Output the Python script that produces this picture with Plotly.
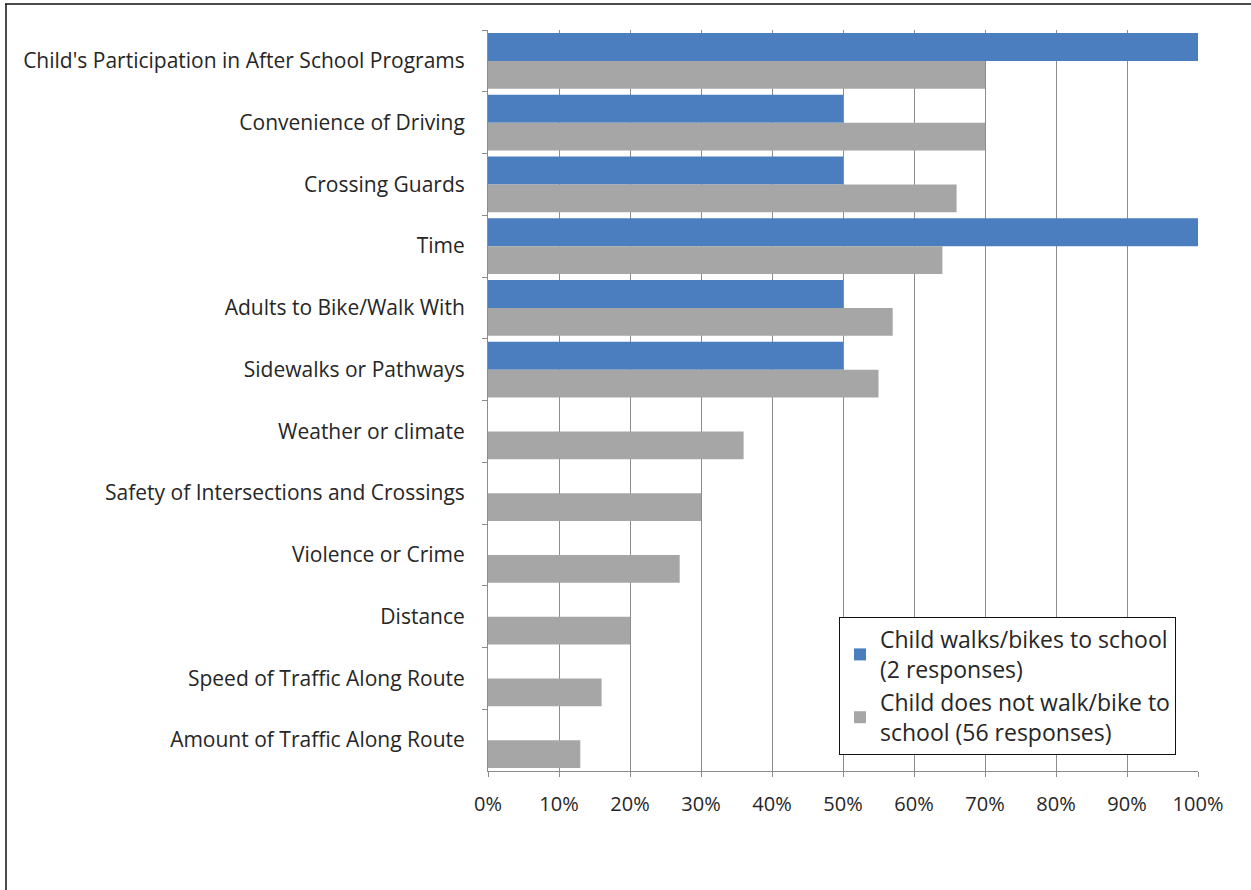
import plotly.graph_objects as go

categories = [
    "Child's Participation in After School Programs",
    "Convenience of Driving",
    "Crossing Guards",
    "Time",
    "Adults to Bike/Walk With",
    "Sidewalks or Pathways",
    "Weather or climate",
    "Safety of Intersections and Crossings",
    "Violence or Crime",
    "Distance",
    "Speed of Traffic Along Route",
    "Amount of Traffic Along Route",
]
walks_bikes = [1.00, 0.50, 0.50, 1.00, 0.50, 0.50, 0, 0, 0, 0, 0, 0]
does_not = [0.70, 0.70, 0.66, 0.64, 0.57, 0.55, 0.36, 0.30, 0.27, 0.20, 0.16, 0.13]
x_ticks = [i / 10 for i in range(11)]
x_tick_labels = [f"{i * 10}%" for i in range(11)]

W, H = 1251, 890
L, R, T, B = 488, 1198, 30, 771
font = "'Open Sans', sans-serif"

fig = go.Figure()
fig.add_trace(go.Bar(
    y=categories, x=walks_bikes, orientation="h",
    name="Child walks/bikes to school<br>(2 responses)",
    marker=dict(color="#4A7EBF", line=dict(width=0)),
))
fig.add_trace(go.Bar(
    y=categories, x=does_not, orientation="h",
    name="Child does not walk/bike to<br>school (56 responses)",
    marker=dict(color="#A6A6A6", line=dict(width=0)),
))

def px_x(p):
    return (p - L) / (R - L)

def px_y(p):
    return (B - p) / (B - T)

# frame around the chart area
fig.add_shape(type="line", xref="paper", yref="paper",
              x0=px_x(5), x1=px_x(1260), y0=px_y(4), y1=px_y(4),
              line=dict(color="#111111", width=1.5))
fig.add_shape(type="line", xref="paper", yref="paper",
              x0=px_x(6), x1=px_x(6), y0=px_y(4), y1=px_y(895),
              line=dict(color="#111111", width=1.5))

fig.update_layout(
    width=W, height=H,
    margin=dict(l=L, r=W - R, t=T, b=H - B, pad=0),
    paper_bgcolor="white", plot_bgcolor="white",
    barmode="group", bargap=0.1, bargroupgap=0,
    font=dict(family=font, size=20, color="#262626"),
    showlegend=True,
    legend=dict(
        x=px_x(839), y=px_y(617), xanchor="left", yanchor="top",
        bordercolor="#111111", borderwidth=1, bgcolor="white",
        font=dict(family=font, size=23, color="#262626"),
        tracegroupgap=2, itemsizing="constant",
    ),
    xaxis=dict(
        range=[0, 1], tickvals=x_ticks, ticktext=x_tick_labels,
        showgrid=True, gridcolor="#8C8C8C", gridwidth=1,
        showline=True, linecolor="#8C8C8C", linewidth=1,
        ticks="outside", ticklen=5, tickcolor="#8C8C8C",
        zeroline=False, fixedrange=True,
        tickfont=dict(size=20), ticklabelstandoff=10,
    ),
    yaxis=dict(
        categoryorder="array", categoryarray=categories,
        autorange="reversed",
        showline=True, linecolor="#8C8C8C", linewidth=1,
        ticks="outside", ticklen=5, tickcolor="#8C8C8C",
        tickson="boundaries", ticklabelstandoff=18,
        showgrid=False, fixedrange=True,
        tickfont=dict(size=21),
    ),
)

fig.write_html("out.html")
